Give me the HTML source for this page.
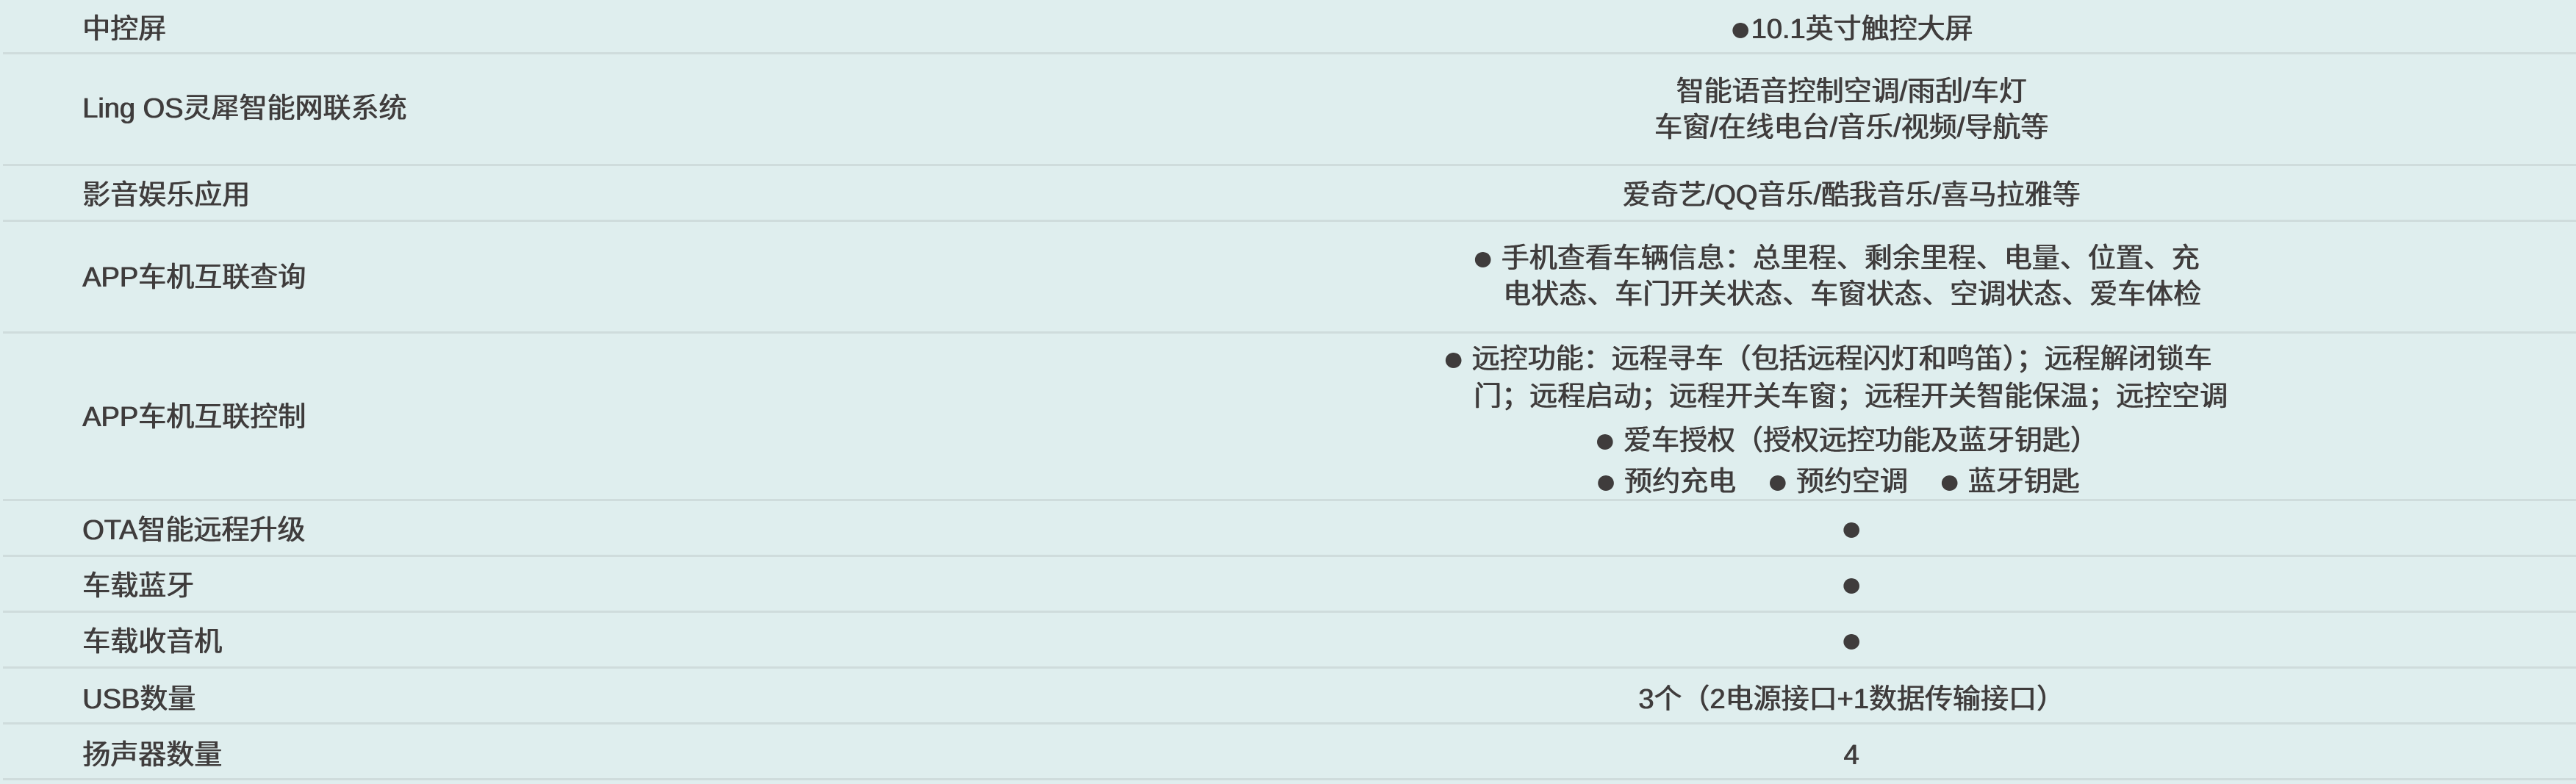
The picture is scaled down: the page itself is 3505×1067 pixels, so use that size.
<!DOCTYPE html>
<html><head><meta charset="utf-8"><style>
html,body{margin:0;padding:0}
body{width:3505px;height:1067px;background:#dfeeee;position:relative;overflow:hidden;font-family:"Liberation Sans","Noto Sans CJK SC",sans-serif;color:#3f3c3c;font-size:38px}
.l{position:absolute;left:4px;width:3501px;height:3px;background:#cfdcdc}
.t,.c{text-shadow:0.7px 0 0 #3f3c3c,-0.3px 0 0 #3f3c3c}
.t{position:absolute;white-space:nowrap;line-height:46px;transform:translateY(-50%)}
.c{position:absolute;white-space:nowrap;line-height:46px;transform:translate(-50%,-50%)}
.lb{left:112px}
b{font-weight:normal;font-size:48px;vertical-align:-3px}
</style></head><body>
<div class="l" style="top:71px"></div>
<div class="l" style="top:223px"></div>
<div class="l" style="top:299px"></div>
<div class="l" style="top:451px"></div>
<div class="l" style="top:679px"></div>
<div class="l" style="top:755px"></div>
<div class="l" style="top:831px"></div>
<div class="l" style="top:907px"></div>
<div class="l" style="top:983px"></div>
<div class="l" style="top:1059px"></div>

<div class="t lb" style="top:40px">中控屏</div>
<div class="t lb" style="top:148px">Ling OS灵犀智能网联系统</div>
<div class="t lb" style="top:266px">影音娱乐应用</div>
<div class="t lb" style="top:378px">APP车机互联查询</div>
<div class="t lb" style="top:568px">APP车机互联控制</div>
<div class="t lb" style="top:722px">OTA智能远程升级</div>
<div class="t lb" style="top:798px">车载蓝牙</div>
<div class="t lb" style="top:874px">车载收音机</div>
<div class="t lb" style="top:952px">USB数量</div>
<div class="t lb" style="top:1028px">扬声器数量</div>

<div class="c" style="left:2519px;top:40px"><b>●</b>10.1英寸触控大屏</div>
<div class="c" style="left:2519px;top:125px">智能语音控制空调/雨刮/车灯</div>
<div class="c" style="left:2519px;top:174px">车窗/在线电台/音乐/视频/导航等</div>
<div class="c" style="left:2519px;top:266px">爱奇艺/QQ音乐/酷我音乐/喜马拉雅等</div>
<div class="t" style="left:2003px;top:352px"><b>●</b> 手机查看车辆信息：总里程、剩余里程、电量、位置、充</div>
<div class="t" style="left:2045px;top:401px">电状态、车门开关状态、车窗状态、空调状态、爱车体检</div>
<div class="t" style="left:1963px;top:489px"><b>●</b> 远控功能：远程寻车（包括远程闪灯和鸣笛）；远程解闭锁车</div>
<div class="t" style="left:2005px;top:540px">门；远程启动；远程开关车窗；远程开关智能保温；远控空调</div>
<div class="c" style="left:2512px;top:600px"><b>●</b> 爱车授权（授权远控功能及蓝牙钥匙）</div>
<div class="c" style="left:2500px;top:656px"><b>●</b> 预约充电&nbsp;&nbsp;&nbsp;&nbsp;<b>●</b> 预约空调&nbsp;&nbsp;&nbsp;&nbsp;<b>●</b> 蓝牙钥匙</div>
<div class="c" style="left:2519px;top:720px"><b>●</b></div>
<div class="c" style="left:2519px;top:796px"><b>●</b></div>
<div class="c" style="left:2519px;top:872px"><b>●</b></div>
<div class="c" style="left:2519px;top:952px">3个（2电源接口+1数据传输接口）</div>
<div class="c" style="left:2519px;top:1028px">4</div>
</body></html>
